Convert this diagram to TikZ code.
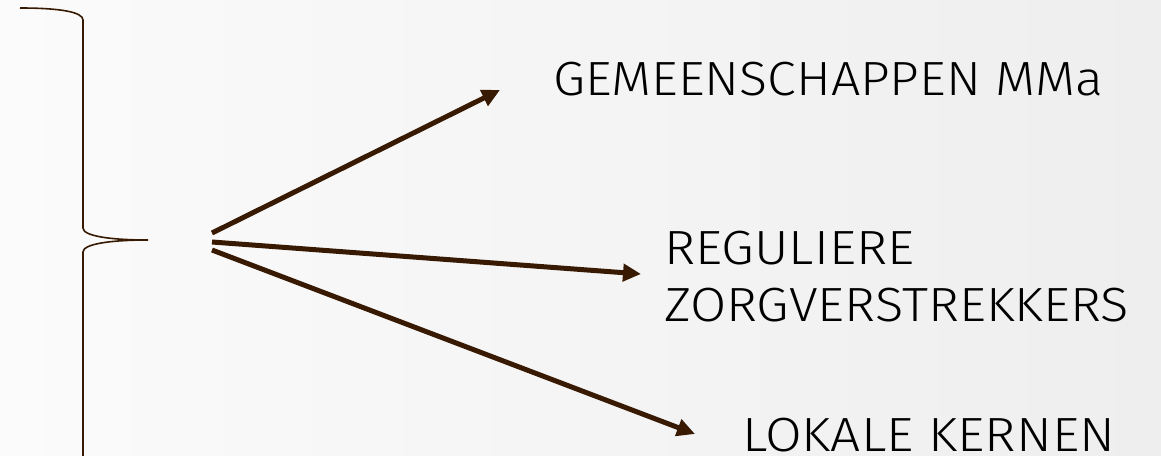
\documentclass[tikz,border=0pt]{standalone}
\usepackage{fontspec}
\setmainfont{Fira Sans Light}
\usetikzlibrary{arrows.meta}
\definecolor{brn}{RGB}{56,26,2}
\definecolor{bgl}{RGB}{251,251,251}
\definecolor{bgr}{RGB}{238,238,238}
\tikzset{
  arr/.style={draw=brn, line width=5pt, -{Triangle[length=18pt,width=17pt]}},
  lbl/.style={inner sep=0pt, anchor=base west, font=\fontsize{48}{57}\selectfont, text=black},
}
\newcommand{\fitw}[2]{\setbox0\hbox{#2}\pgfmathsetmacro\fx{#1/\the\wd0}\scalebox{\fx}[1]{\box0}}
\begin{document}
\begin{tikzpicture}[x=1pt,y=-1pt]
\useasboundingbox (0,0) rectangle (1161,455);
\shade[left color=bgl, right color=bgr] (0,0) rectangle (1161,455);
% brace
\draw[brn, line width=1.6pt] (20,8) .. controls (60,8) and (83,12) .. (83,20)
  -- (83,228) .. controls (83,236) and (110,240) .. (148,240)
  .. controls (110,240) and (83,244) .. (83,252) -- (83,460);
\coordinate (tip) at (148,240);
\coordinate (s1) at (212,233);
\coordinate (s2) at (212,242);
\coordinate (s3) at (212,250);
\coordinate (e1) at (500,90);
\coordinate (e2) at (641,274);
\coordinate (e3) at (695,434);
\node[lbl] (t1) at (553,95) {\fitw{550}{GEMEENSCHAPPEN MMa}};
\node[lbl] (t2a) at (664,264) {\fitw{250}{REGULIERE}};
\node[lbl] (t2b) at (664,321) {\fitw{465}{ZORGVERSTREKKERS}};
\node[lbl] (t3) at (742,451) {\fitw{373}{LOKALE KERNEN}};
\draw[arr] (s1) -- (e1);
\draw[arr] (s2) -- (e2);
\draw[arr] (s3) -- (e3);
\end{tikzpicture}
\end{document}
